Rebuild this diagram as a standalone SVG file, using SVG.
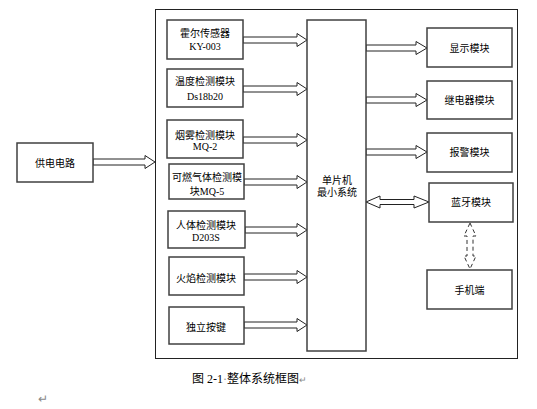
<svg xmlns="http://www.w3.org/2000/svg" width="537" height="409" viewBox="0 0 537 409">
<style>
.box{fill:#fff;stroke:#404040;stroke-width:1.5}
.outer{fill:none;stroke:#222;stroke-width:1}
.arr{fill:#fff;stroke:#222;stroke-width:1}
.dash{fill:none;stroke:#333;stroke-width:1;stroke-dasharray:4,3}
text{font-family:"Liberation Serif","Noto Sans CJK SC",serif;font-size:10px;fill:#000;text-anchor:middle}
.cap{font-size:12px;text-anchor:start}
.mark{fill:#888}
</style>
<rect width="537" height="409" fill="#fff"/>
<rect class="outer" x="155.5" y="9.5" width="362" height="349"/>
<g id="connectors">
<polygon class="arr" points="93,159 145,159 145,155.5 155,162 145,168.5 145,165 93,165"/>
<polygon class="arr" points="243,37 297,37 297,33.5 307,40 297,46.5 297,43 243,43"/>
<polygon class="arr" points="243,86 297,86 297,82.5 307,89 297,95.5 297,92 243,92"/>
<polygon class="arr" points="243,137 297,137 297,133.5 307,140 297,146.5 297,143 243,143"/>
<polygon class="arr" points="244,179 297,179 297,175.5 307,182 297,188.5 297,185 244,185"/>
<polygon class="arr" points="245,227 297,227 297,223.5 307,230 297,236.5 297,233 245,233"/>
<polygon class="arr" points="244,274 297,274 297,270.5 307,277 297,283.5 297,280 244,280"/>
<polygon class="arr" points="244,322 297,322 297,318.5 307,325 297,331.5 297,328 244,328"/>
<polygon class="arr" points="366,45 416,45 416,41.5 427,48 416,54.5 416,51 366,51"/>
<polygon class="arr" points="366,97 416,97 416,93.5 427,100 416,106.5 416,103 366,103"/>
<polygon class="arr" points="366,149 416,149 416,145.5 427,152 416,158.5 416,155 366,155"/>
<polygon class="arr" points="366,202 380,196 380,199.5 414,199.5 414,196 429,202 414,208 414,204.5 380,204.5 380,208"/>
<polygon class="dash" points="470,223 476,236 473,236 473,256 476,256 470,269 464,256 467,256 467,236 464,236"/>
</g>
<g id="n-power"><rect class="box" x="17" y="143" width="76" height="39"/><text x="55" y="166.5">供电电路</text></g>
<g id="n-hall"><rect class="box" x="167" y="20" width="76" height="39"/><text x="205" y="36.5">霍尔传感器</text><text x="205" y="49.5">KY-003</text></g>
<g id="n-temp"><rect class="box" x="167" y="69" width="76" height="38"/><text x="205" y="85">温度检测模块</text><text x="205" y="99.5">Ds18b20</text></g>
<g id="n-smoke"><rect class="box" x="167" y="120" width="76" height="38"/><text x="205" y="138.5">烟雾检测模块</text><text x="205" y="149.5">MQ-2</text></g>
<g id="n-gas"><rect class="box" x="169" y="164" width="75" height="35"/><text x="207" y="180.5">可燃气体检测模</text><text x="207" y="194.5">块MQ-5</text></g>
<g id="n-body"><rect class="box" x="168" y="211" width="77" height="37"/><text x="206" y="228.5">人体检测模块</text><text x="206" y="240.5">D203S</text></g>
<g id="n-fire"><rect class="box" x="169" y="257" width="75" height="38"/><text x="206" y="281.5">火焰检测模块</text></g>
<g id="n-key"><rect class="box" x="169" y="307" width="75" height="37"/><text x="206" y="330.5">独立按键</text></g>
<g id="n-mcu"><rect class="box" x="307" y="20" width="59" height="331"/><text x="337" y="183.5">单片机</text><text x="337" y="195.5">最小系统</text></g>
<g id="n-display"><rect class="box" x="427" y="28" width="85" height="39"/><text x="469.5" y="51.5">显示模块</text></g>
<g id="n-relay"><rect class="box" x="427" y="81" width="85" height="38"/><text x="469.5" y="103.5">继电器模块</text></g>
<g id="n-alarm"><rect class="box" x="427" y="133" width="85" height="39"/><text x="469.5" y="155.5">报警模块</text></g>
<g id="n-bt"><rect class="box" x="429" y="183" width="84" height="39"/><text x="471" y="205.5">蓝牙模块</text></g>
<g id="n-phone"><rect class="box" x="427" y="270" width="85" height="39"/><text x="469.5" y="293.5">手机端</text></g>
<text class="cap" x="192" y="383">图 2-1<tspan class="mark">·</tspan>整体系统框图<tspan class="mark" font-size="9">↵</tspan></text>
<text class="cap mark" x="38" y="403" font-size="9">↵</text>
</svg>
